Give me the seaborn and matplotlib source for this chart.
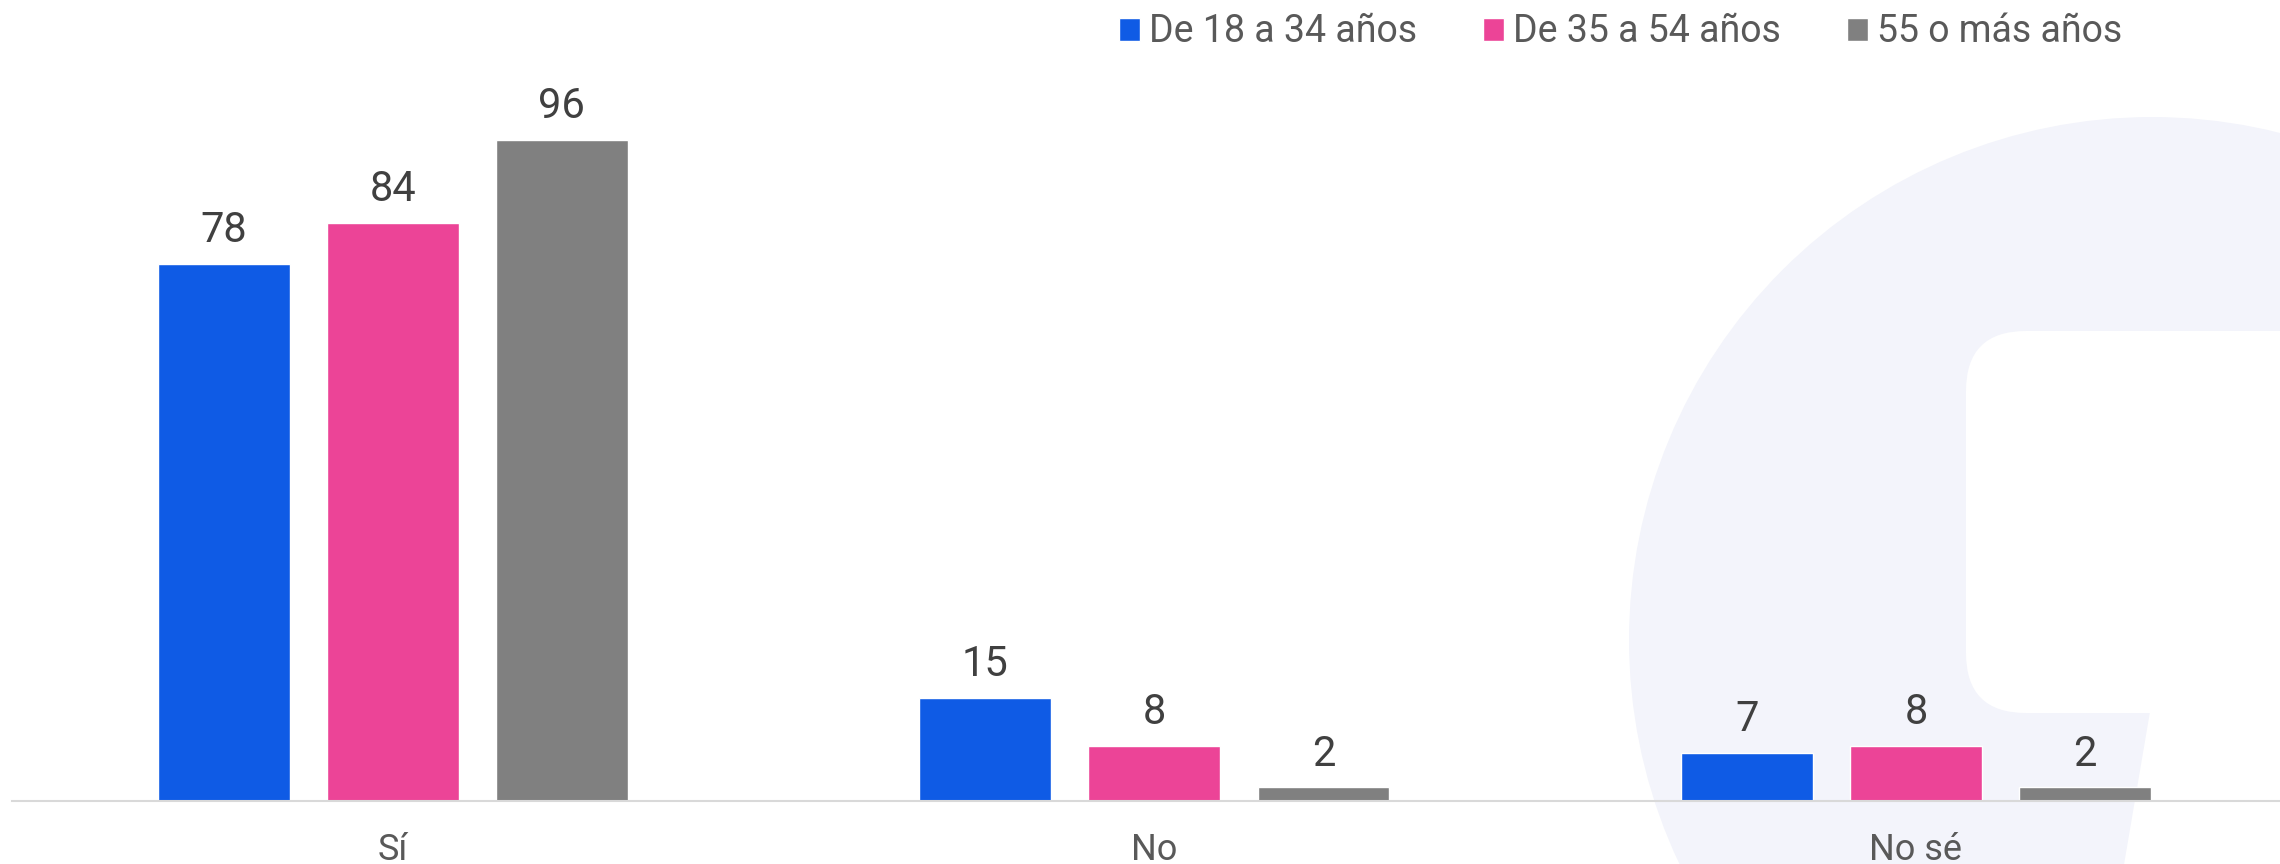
import pandas as pd
import numpy as np
import seaborn as sns
import matplotlib.pyplot as plt
from matplotlib.patches import Circle, FancyBboxPatch, Polygon

categories = ['Sí', 'No', 'No sé']
groups = ['De 18 a 34 años', 'De 35 a 54 años', '55 o más años']
v_18_34 = [78, 15, 7]
v_35_54 = [84, 8, 8]
v_55_mas = [96, 2, 2]
colors = ['#0F5BE5', '#EC4497', '#808080']

df = pd.DataFrame({
    'Respuesta': categories * 3,
    'Edad': [g for g in groups for _ in categories],
    'Valor': v_18_34 + v_35_54 + v_55_mas,
})

sns.set_style('white')
plt.rcParams['font.family'] = ['Roboto', 'DejaVu Sans']

W, H = 2280, 864
fig = plt.figure(figsize=(W / 100, H / 100), dpi=100)

# faint logo in the background (pixel coords -> inches)
def px(x, y):
    return x / 100, (H - y) / 100

bg = '#F3F4FB'
fig.add_artist(Circle(px(2152, 640), 5.23, transform=fig.dpi_scale_trans,
                      facecolor=bg, edgecolor='none', zorder=0))
x0, y0 = px(1966, 713)
fig.add_artist(FancyBboxPatch((x0, y0), 5.0, (713 - 331) / 100,
                              boxstyle='round,pad=0,rounding_size=0.6',
                              transform=fig.dpi_scale_trans,
                              facecolor='white', edgecolor='none', zorder=0.1))
fig.add_artist(Polygon([px(2152, 700), px(2400, 700), px(2400, 900), px(2118, 900)],
                       closed=True, transform=fig.dpi_scale_trans,
                       facecolor='white', edgecolor='none', zorder=0.1))

ax = fig.add_axes([12 / W, (H - 801) / H, 1 - 12 / W, (801 - 60) / H])
ax.set_zorder(1)
ax.patch.set_alpha(0)
sns.barplot(data=df, x='Respuesta', y='Valor', hue='Edad', palette=colors,
            width=0.666, gap=0.22, saturation=1, ax=ax)

for c in ax.containers:
    ax.bar_label(c, padding=9, fontsize=30, color='#404040')

ax.set_xlim(-0.5, 2.478)
ax.set_ylim(0, 107.6)
ax.set_xlabel('')
ax.set_ylabel('')
ax.set_yticks([])
ax.tick_params(axis='x', length=0, pad=22, labelsize=26, labelcolor='#595959')
for s in ['top', 'right', 'left']:
    ax.spines[s].set_visible(False)
ax.spines['bottom'].set_color('#D9D9D9')
ax.spines['bottom'].set_linewidth(1.5)

handles, labels = ax.get_legend_handles_labels()
ax.legend(handles, labels, loc='upper right', bbox_to_anchor=(2130 / W, 1 - 6 / H),
          bbox_transform=fig.transFigure, ncol=3, frameon=False, fontsize=27,
          handlelength=0.56, handleheight=0.56, handletextpad=0.25,
          columnspacing=1.75, labelcolor='#595959', borderaxespad=0, borderpad=0.2)

plt.savefig('out.png', dpi=100)
